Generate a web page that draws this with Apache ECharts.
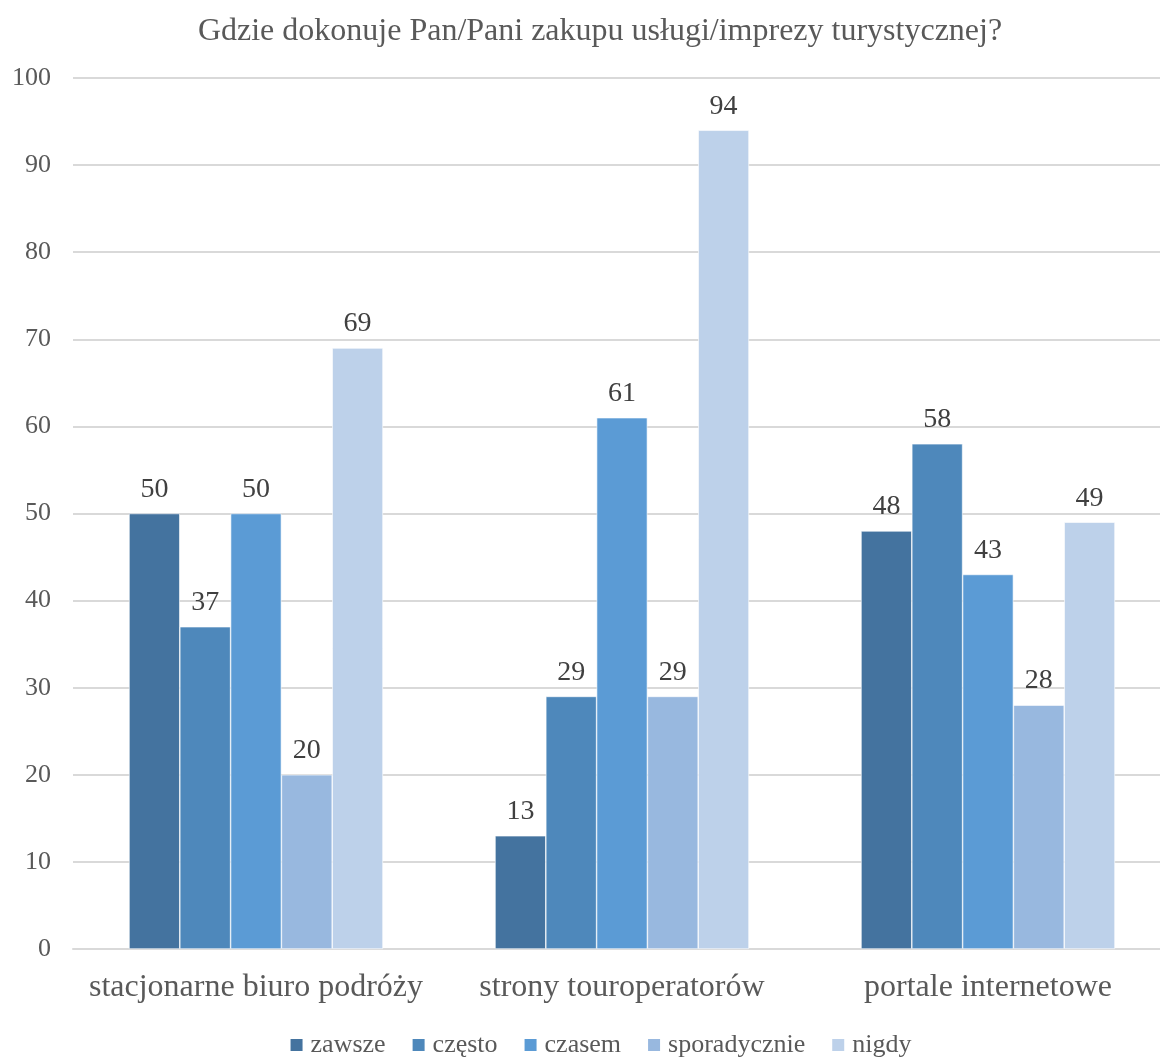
<!DOCTYPE html>
<html>
<head>
<meta charset="utf-8">
<script src="https://cdn.jsdelivr.net/npm/echarts@6/dist/echarts.min.js"></script>
<style>
  html, body { margin: 0; padding: 0; background: #fff; overflow: hidden; }
  #chart { width: 1200px; height: 1057px; }
</style>
</head>
<body>
<div id="chart"></div>
<script>
// Purchase channels and answer frequencies
const categories = ['stacjonarne biuro podróży', 'strony touroperatorów', 'portale internetowe'];
const seriesNames = ['zawsze', 'często', 'czasem', 'sporadycznie', 'nigdy'];
const zawsze = [50, 13, 48];
const czesto = [37, 29, 58];
const czasem = [50, 61, 43];
const sporadycznie = [20, 29, 28];
const nigdy = [69, 94, 49];
const yTicks = [0, 10, 20, 30, 40, 50, 60, 70, 80, 90, 100];

const values = [zawsze, czesto, czasem, sporadycznie, nigdy];
const colors = ['#44739f', '#4e88bb', '#5b9bd5', '#98b8df', '#bdd1ea'];
const serif = '"Liberation Serif", "Times New Roman", serif';

const chart = echarts.init(document.getElementById('chart'));
chart.setOption({
  animation: false,
  title: {
    text: 'Gdzie dokonuje Pan/Pani zakupu usługi/imprezy turystycznej?',
    left: 'center',
    top: 11,
    textStyle: { fontFamily: serif, fontSize: 32, fontWeight: 'normal', color: '#595959' }
  },
  legend: {
    data: seriesNames,
    bottom: -6,
    left: 'center',
    itemWidth: 14,
    itemHeight: 14,
    itemGap: 25,
    icon: 'rect',
    textStyle: { fontFamily: serif, fontSize: 26, color: '#595959', padding: [0, 0, 0, 2] }
  },
  grid: { left: 73, top: 78, right: 29, height: 871, containLabel: false },
  xAxis: {
    type: 'category',
    data: categories,
    axisLine: { show: true, lineStyle: { color: '#d9d9d9', width: 2 } },
    axisTick: { show: false },
    axisLabel: { interval: 0, fontFamily: serif, fontSize: 32, color: '#595959', margin: 23 }
  },
  yAxis: {
    type: 'value',
    min: yTicks[0],
    max: yTicks[yTicks.length - 1],
    interval: 10,
    axisLine: { show: false },
    axisTick: { show: false },
    splitLine: { lineStyle: { color: '#d9d9d9', width: 2 } },
    axisLabel: { fontFamily: serif, fontSize: 26, color: '#595959', margin: 22 }
  },
  series: seriesNames.map((name, i) => ({
    name: name,
    type: 'bar',
    data: values[i],
    barGap: '0%',
    barCategoryGap: '30.6%',
    itemStyle: { color: colors[i], borderColor: '#ffffff', borderWidth: 0.6 },
    label: {
      show: true,
      position: 'top',
      distance: 10,
      fontFamily: serif,
      fontSize: 28,
      color: '#404040'
    }
  }))
});
</script>
</body>
</html>
